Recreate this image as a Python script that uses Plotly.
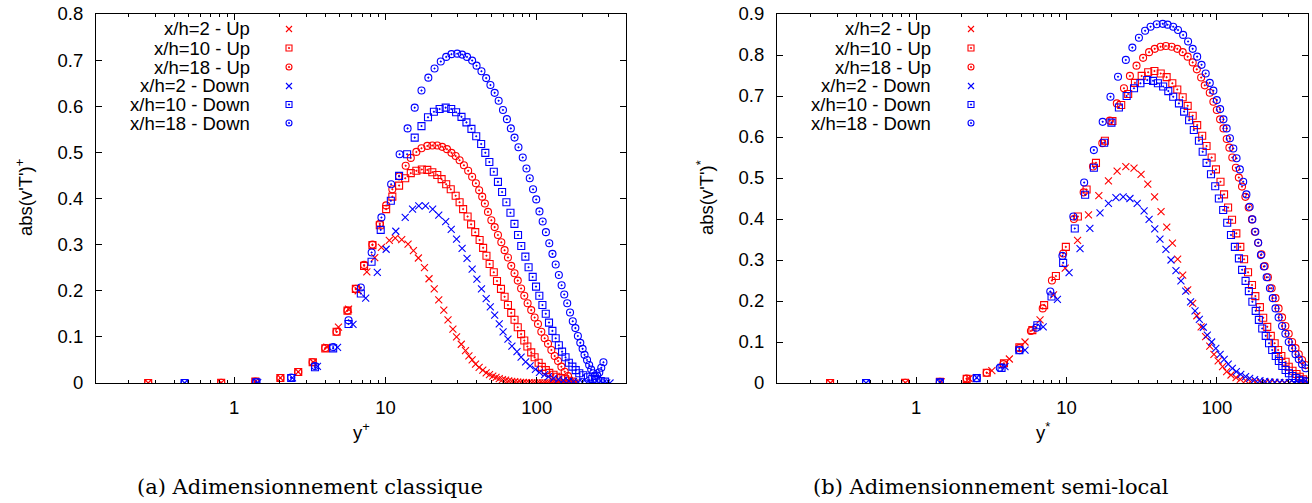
import plotly.graph_objects as go
import math

W, H = 1312, 503

# ---------------- data : panel (a) classical scaling ----------------
a_up2_x = [0.27, 0.82, 1.38, 2.02, 2.65, 3.33, 4.1, 4.89, 5.70, 6.6, 7.53, 8.49, 9.4, 10.6, 11.6,
           12.8, 14.1, 15.3, 16.5, 18.1, 19.4, 21.0, 22.5, 24.3, 25.9, 27.9, 29.5, 31.7, 33.8, 35.6,
           37.4, 39.4, 41.6, 44.0, 46.3, 48.7, 51.2, 53.8, 56.5, 59.3, 62.2, 65.2, 68.3, 71.5, 74.8,
           78.2, 81.7, 85.3, 89.0, 92.8, 96.7, 100.7, 104.8, 109, 113.3, 117.7, 122.2, 126.8, 131.5, 136.3,
           141.2, 146.2, 151.3, 156.5, 161.8, 167.2, 172.7, 178.3, 184]
a_up2_y = [0.0, 0.0005, 0.003, 0.011, 0.024, 0.045, 0.078, 0.121, 0.160, 0.200, 0.241, 0.272, 0.294, 0.309, 0.314,
           0.311, 0.301, 0.287, 0.271, 0.250, 0.226, 0.204, 0.180, 0.158, 0.137, 0.117, 0.100, 0.084, 0.070, 0.059,
           0.050, 0.041, 0.034, 0.028, 0.022, 0.018, 0.015, 0.012, 0.0095, 0.0075, 0.006, 0.0045, 0.0035, 0.0027, 0.002,
           0.0015, 0.0011, 0.0008, 0.0006, 0.0004, 0.0003, 0.0002, 0.0002, 0.0001, 0.0001, 0.0001, 0, 0, 0, 0,
           0, 0, 0, 0, 0, 0, 0, 0, 0]

a_up10_x = [0.27, 0.82, 1.38, 2.02, 2.65, 3.3, 4.0, 4.75, 5.61, 6.37, 7.22, 8.2, 9.17, 10.1, 11.1,
            12.3, 13.5, 14.7, 16.0, 17.4, 18.9, 20.4, 22.0, 23.5, 25.2, 27.0, 29.1, 30.9, 32.6, 34.9,
            36.8, 39.2, 41.9, 44.2, 46.5, 48.8, 52.0, 54.6, 58.0, 61.3, 64.5, 67.8, 71.3, 74.9, 78.8,
            82.7, 86.7, 91.9, 96.8, 102.9, 108, 114.8, 121, 129, 135, 145, 154, 163, 172]
a_up10_y = [0, 0.0005, 0.003, 0.011, 0.024, 0.045, 0.075, 0.111, 0.157, 0.204, 0.254, 0.299, 0.342, 0.377, 0.404,
            0.428, 0.444, 0.455, 0.460, 0.463, 0.462, 0.457, 0.451, 0.442, 0.431, 0.420, 0.406, 0.392, 0.377, 0.361,
            0.344, 0.327, 0.310, 0.293, 0.276, 0.258, 0.240, 0.221, 0.204, 0.187, 0.169, 0.152, 0.137, 0.121, 0.106,
            0.092, 0.079, 0.0665, 0.0557, 0.044, 0.035, 0.028, 0.022, 0.018, 0.0137, 0.011, 0.008, 0.005, 0.003]

a_up18_x = [0.27, 0.82, 1.38, 2.02, 2.65, 3.3, 4.0, 4.75, 5.61, 6.37, 7.22, 8.2, 9.17, 10.1, 11.1,
            12.3, 13.6, 14.7, 16.0, 17.3, 18.9, 20.4, 22.0, 23.7, 25.5, 27.3, 29.1, 30.9, 33.0, 35.2,
            37.4, 39.6, 41.6, 43.6, 45.4, 47.6, 50.1, 52.7, 55.4, 58.3, 61.3, 64.5, 67.8, 71.3, 74.9,
            78.8, 82.7, 87.0, 91.9, 96.8, 101.9, 107.2, 112.8, 118.7, 124.9, 131.4, 138.3, 145.5, 153, 161]
a_up18_y = [0, 0.0005, 0.003, 0.011, 0.024, 0.045, 0.076, 0.111, 0.157, 0.204, 0.256, 0.300, 0.345, 0.385, 0.420,
            0.448, 0.471, 0.488, 0.501, 0.509, 0.514, 0.515, 0.515, 0.512, 0.507, 0.499, 0.492, 0.483, 0.472, 0.460,
            0.447, 0.433, 0.418, 0.404, 0.389, 0.371, 0.353, 0.338, 0.321, 0.305, 0.288, 0.272, 0.254, 0.238, 0.222,
            0.205, 0.189, 0.173, 0.158, 0.142, 0.128, 0.111, 0.097, 0.085, 0.0715, 0.0585, 0.0477, 0.0354, 0.0245, 0.015]

a_dn2_x = [0.47, 1.43, 2.43, 3.55, 4.82, 6.1, 7.4, 8.83, 10.1, 11.7, 13.5, 15.1, 16.6, 18.4, 20.5,
           22.5, 25.0, 27.2, 29.5, 32.1, 34.6, 37.4, 40.2, 43.1, 46.3, 49.3, 52.7, 56.5, 59.9, 64.5,
           68.5, 74.0, 78.8, 84.4, 90.4, 98, 104.2, 112.8, 119.5, 129, 139, 150, 163, 175, 188,
           200, 214, 228, 243, 258, 274, 290, 305]
a_dn2_y = [0, 0.001, 0.011, 0.036, 0.077, 0.127, 0.184, 0.24, 0.29, 0.329, 0.359, 0.377, 0.384, 0.384, 0.377,
           0.364, 0.350, 0.333, 0.312, 0.292, 0.270, 0.247, 0.225, 0.204, 0.183, 0.165, 0.147, 0.128, 0.111, 0.095,
           0.080, 0.068, 0.056, 0.046, 0.037, 0.0297, 0.023, 0.018, 0.0137, 0.010, 0.008, 0.0058, 0.0043, 0.003, 0.002,
           0.0015, 0.001, 0.0008, 0.0005, 0.0003, 0.0002, 0.0001, 0]

a_dn10_x = [0.47, 1.40, 2.38, 3.42, 4.51, 5.7, 6.87, 8.09, 9.3, 10.85, 12.3, 13.9, 15.6, 17.3, 19.1,
            20.9, 22.8, 25.0, 27.2, 29.3, 31.8, 34.3, 37.0, 39.8, 42.9, 45.7, 48.6, 52.0, 55.4, 59.0,
            63.0, 67.0, 71.2, 75.2, 79, 84.1, 88.3, 94, 98.9, 104, 109, 114.7, 120.5, 126.9, 133.4,
            140, 147, 155, 163, 172, 181, 191, 203, 218, 233, 248, 265, 283]
a_dn10_y = [0, 0.0015, 0.011, 0.034, 0.075, 0.128, 0.194, 0.263, 0.332, 0.395, 0.449, 0.496, 0.532, 0.557, 0.576,
            0.588, 0.594, 0.597, 0.594, 0.587, 0.577, 0.565, 0.551, 0.535, 0.518, 0.499, 0.479, 0.458, 0.436, 0.414,
            0.392, 0.369, 0.345, 0.321, 0.297, 0.274, 0.251, 0.230, 0.209, 0.189, 0.169, 0.150, 0.131, 0.113, 0.097,
            0.082, 0.068, 0.0557, 0.044, 0.0354, 0.028, 0.021, 0.0167, 0.0124, 0.0087, 0.0065, 0.0043, 0.003]

a_dn18_x = [0.47, 1.40, 2.38, 3.42, 4.51, 5.7, 6.87, 8.1, 9.4, 10.9, 12.4, 14.0, 15.6, 17.3, 19.2,
            21.1, 23.2, 25.2, 27.3, 29.8, 32.1, 34.6, 37.4, 40.0, 43.1, 46.3, 49.4, 52.7, 56.0, 59.8,
            63.5, 67.4, 71.3, 75.7, 80.8, 85.5, 89.9, 94.5, 99.2, 104.2, 109.4, 115, 121, 127, 133.4,
            140, 146, 152, 159, 166, 173, 180, 187, 194, 201, 207, 215, 222, 229, 236,
            243, 251, 259, 267, 276]
a_dn18_y = [0, 0.0015, 0.012, 0.037, 0.078, 0.136, 0.207, 0.283, 0.359, 0.431, 0.496, 0.552, 0.597, 0.634, 0.662,
            0.682, 0.697, 0.707, 0.713, 0.714, 0.712, 0.707, 0.699, 0.688, 0.676, 0.661, 0.646, 0.629, 0.612, 0.592,
            0.572, 0.552, 0.532, 0.511, 0.489, 0.465, 0.444, 0.420, 0.398, 0.372, 0.350, 0.327, 0.303, 0.280, 0.257,
            0.234, 0.212, 0.192, 0.173, 0.153, 0.134, 0.119, 0.102, 0.087, 0.074, 0.061, 0.050, 0.039, 0.029, 0.021,
            0.015, 0.016, 0.023, 0.033, 0.045]

# ---------------- data : panel (b) semi-local scaling ----------------
b_up2_x = [0.27, 0.85, 1.47, 2.25, 3.19, 4.17, 5.3, 6.67, 8.2, 9.8, 11.85, 14.0, 16.4, 19.0, 21.7,
           24.8, 28.1, 31.3, 34.7, 38.5, 42.5, 46.4, 50.6, 54.8, 59.2, 63.9, 69.0, 73.5, 78.5, 84.1,
           89.6, 95.5, 101.9, 109, 116, 124, 134, 143, 155, 167, 180, 195, 210, 226, 243,
           262, 282, 303, 326, 350, 375, 400]
b_up2_y = [0, 0.0005, 0.003, 0.011, 0.03, 0.0585, 0.10, 0.154, 0.215, 0.28, 0.348, 0.41, 0.457, 0.493, 0.517,
           0.528, 0.524, 0.509, 0.485, 0.454, 0.418, 0.38, 0.341, 0.302, 0.263, 0.227, 0.194, 0.164, 0.137, 0.113,
           0.09, 0.07, 0.0537, 0.0398, 0.0276, 0.0195, 0.013, 0.009, 0.0056, 0.0032, 0.002, 0.0015, 0.001, 0.0007, 0.0005,
           0.0003, 0.0002, 0.0001, 0.0001, 0, 0, 0]

b_up10_x = [0.268, 0.845, 1.44, 2.17, 2.95, 3.84, 4.86, 5.93, 7.1, 8.5, 9.9, 11.9, 13.6, 15.7, 18.0,
            20.2, 23.1, 25.7, 28.5, 31.6, 34.9, 38.4, 42.3, 46.3, 50.5, 54.5, 59.2, 63.9, 69.0, 73.9,
            79.8, 85.3, 92.2, 98.5, 105.6, 111.5, 118.6, 126, 134.6, 143, 151.5, 161, 171, 180, 193,
            203, 216, 228, 242, 255, 268, 286, 300, 318, 338, 355, 374, 395]
b_up10_y = [0, 0.0005, 0.003, 0.01, 0.025, 0.048, 0.087, 0.129, 0.19, 0.261, 0.332, 0.406, 0.472, 0.537, 0.591,
            0.639, 0.678, 0.705, 0.732, 0.749, 0.758, 0.761, 0.755, 0.746, 0.731, 0.716, 0.697, 0.676, 0.652, 0.629,
            0.603, 0.578, 0.55, 0.521, 0.491, 0.46, 0.428, 0.398, 0.365, 0.332, 0.302, 0.27, 0.239, 0.212, 0.185,
            0.159, 0.137, 0.115, 0.097, 0.0805, 0.066, 0.052, 0.0398, 0.030, 0.022, 0.0154, 0.009, 0.005]

b_up18_x = [0.268, 0.845, 1.44, 2.17, 2.95, 3.8, 4.86, 5.8, 6.95, 8.0, 9.5, 11.2, 13.0, 15.0, 17.3,
            19.4, 21.6, 24.1, 26.4, 29.2, 32.3, 35.4, 38.6, 42.2, 45.8, 50, 54.5, 59.2, 63.9, 69,
            73.5, 78.5, 83, 89.6, 94.7, 99.8, 104.9, 110.5, 116.2, 121, 126.5, 133.6, 139.8, 146.8, 154.6,
            162.6, 171, 178.6, 188, 197.6, 207.8, 218.4, 231, 245, 257, 271, 285, 300, 316, 333,
            350, 368, 388]
b_up18_y = [0, 0.0005, 0.003, 0.011, 0.025, 0.046, 0.085, 0.127, 0.182, 0.25, 0.316, 0.40, 0.465, 0.528, 0.585,
            0.64, 0.682, 0.719, 0.749, 0.774, 0.793, 0.807, 0.815, 0.82, 0.822, 0.82, 0.815, 0.807, 0.796, 0.782,
            0.765, 0.745, 0.726, 0.708, 0.686, 0.666, 0.643, 0.621, 0.595, 0.574, 0.55, 0.525, 0.501, 0.479, 0.454,
            0.428, 0.399, 0.369, 0.342, 0.314, 0.285, 0.258, 0.231, 0.207, 0.182, 0.16, 0.139, 0.12, 0.10, 0.085,
            0.07, 0.056, 0.044]

b_dn2_x = [0.465, 1.44, 2.53, 3.9, 5.3, 7.0, 8.7, 10.4, 12.3, 14.3, 16.7, 19.0, 21.3, 23.8, 26.4,
           29.5, 32.8, 35.4, 38.6, 41.8, 45.8, 49.5, 53.4, 57.6, 62, 66.8, 71.5, 76.4, 81.2, 86.3,
           92.2, 98.3, 105, 111.7, 118.8, 126.6, 134.6, 144, 155, 165, 178, 193, 208, 224, 242,
           261, 281, 303, 326, 350, 375, 400]
b_dn2_y = [0, 0.0015, 0.013, 0.04, 0.08, 0.137, 0.204, 0.269, 0.328, 0.377, 0.415, 0.438, 0.452, 0.454, 0.45,
           0.438, 0.42, 0.399, 0.376, 0.351, 0.326, 0.30, 0.274, 0.249, 0.224, 0.198, 0.176, 0.155, 0.136, 0.117,
           0.10, 0.0846, 0.07, 0.0577, 0.0463, 0.0358, 0.0276, 0.0212, 0.0154, 0.0114, 0.008, 0.0056, 0.004, 0.003, 0.002,
           0.0015, 0.001, 0.0007, 0.0005, 0.0003, 0.0002, 0.0001]

b_dn10_x = [0.465, 1.44, 2.53, 3.7, 4.86, 6.4, 7.95, 9.5, 11.35, 13.3, 15.2, 17.8, 19.9, 22.3, 25.1,
            28.1, 31.0, 34.4, 37.6, 40.5, 43.9, 47.5, 51.2, 55.9, 60.5, 65.3, 70.2, 75.9, 80.4, 85.3,
            91.3, 97.4, 103, 110, 117, 124, 131.6, 140, 147, 155, 163, 172, 181, 190, 200,
            211, 222, 233, 246, 258, 272, 286, 301, 317, 334, 351, 372, 395]
b_dn10_y = [0, 0.0015, 0.012, 0.037, 0.08, 0.141, 0.211, 0.293, 0.377, 0.459, 0.525, 0.586, 0.635, 0.672, 0.70,
            0.719, 0.731, 0.739, 0.737, 0.731, 0.723, 0.712, 0.698, 0.682, 0.662, 0.641, 0.617, 0.591, 0.564, 0.537,
            0.509, 0.48, 0.45, 0.422, 0.391, 0.361, 0.332, 0.304, 0.276, 0.249, 0.224, 0.198, 0.176, 0.154, 0.133,
            0.115, 0.097, 0.0805, 0.066, 0.0537, 0.0415, 0.0317, 0.0236, 0.017, 0.0122, 0.008, 0.0056, 0.003]

b_dn18_x = [0.465, 1.44, 2.53, 3.6, 4.86, 6.3, 7.8, 9.4, 11.1, 13.1, 15.2, 17.4, 19.6, 22.0, 24.8,
            27.4, 30.3, 33.3, 36.2, 39.8, 43.6, 47, 51.2, 55.1, 59.6, 64.3, 69, 73.9, 79, 84.2,
            89.6, 94.7, 99.8, 105, 110.5, 116, 122, 128.5, 135, 142, 149.5, 157, 165, 172, 180,
            188, 196, 205, 214, 225, 235, 245, 257, 271, 285, 300, 316, 333, 350, 368, 388]
b_dn18_y = [0, 0.0015, 0.012, 0.037, 0.08, 0.135, 0.223, 0.31, 0.406, 0.489, 0.568, 0.637, 0.698, 0.747, 0.788,
            0.818, 0.842, 0.859, 0.869, 0.875, 0.876, 0.874, 0.869, 0.861, 0.849, 0.833, 0.815, 0.796, 0.776, 0.755,
            0.732, 0.713, 0.69, 0.668, 0.643, 0.621, 0.597, 0.572, 0.548, 0.521, 0.491, 0.46, 0.43, 0.399, 0.369,
            0.342, 0.312, 0.284, 0.258, 0.231, 0.207, 0.182, 0.16, 0.139, 0.12, 0.10, 0.085, 0.07, 0.058, 0.0456, 0.036]

series_labels = ["x/h=2 - Up", "x/h=10 - Up", "x/h=18 - Up",
                 "x/h=2 - Down", "x/h=10 - Down", "x/h=18 - Down"]
captions = ["(a) Adimensionnement classique", "(b) Adimensionnement semi-local"]
y_ticks_a = [0, 0.1, 0.2, 0.3, 0.4, 0.5, 0.6, 0.7, 0.8]
y_ticks_b = [0, 0.1, 0.2, 0.3, 0.4, 0.5, 0.6, 0.7, 0.8, 0.9]
x_ticks = [1, 10, 100]

# ---------------- styling ----------------
RED, BLUE = "#ff0000", "#0000ff"
colors = [RED, RED, RED, BLUE, BLUE, BLUE]
symbols = ["x-thin", "square-open-dot", "circle-open-dot"] * 2
FONT = "Liberation Sans, Arial, sans-serif"
FS = 18.5
MSIZE = 7

panel_a = [(a_up2_x, a_up2_y), (a_up10_x, a_up10_y), (a_up18_x, a_up18_y),
           (a_dn2_x, a_dn2_y), (a_dn10_x, a_dn10_y), (a_dn18_x, a_dn18_y)]
panel_b = [(b_up2_x, b_up2_y), (b_up10_x, b_up10_y), (b_up18_x, b_up18_y),
           (b_dn2_x, b_dn2_y), (b_dn10_x, b_dn10_y), (b_dn18_x, b_dn18_y)]


def marker(i, size=MSIZE):
    return dict(symbol=symbols[i], size=size, color=colors[i],
                line=dict(width=1.1, color=colors[i]))


fig = go.Figure()
for ax, panel in (("", panel_a), ("2", panel_b)):
    for i, (xs, ys) in enumerate(panel):
        n = min(len(xs), len(ys))
        fig.add_trace(go.Scatter(x=xs[:n], y=ys[:n], mode="markers", name=series_labels[i],
                                 xaxis="x" + ax, yaxis="y" + ax, marker=marker(i),
                                 showlegend=False, hoverinfo="x+y+name"))

# pixel-space overlay axis used for the hand-made (text-left, symbol-right) legends
legend_rows = [29, 48, 67, 86, 104.5, 123]
legend_marker_x = [289, 971]
legend_text_right = [252, 933]
for p in range(2):
    for i, lab in enumerate(series_labels):
        fig.add_trace(go.Scatter(x=[legend_marker_x[p]], y=[legend_rows[i]], mode="markers",
                                 xaxis="x3", yaxis="y3", marker=marker(i, 6),
                                 showlegend=False, hoverinfo="skip"))
        fig.add_annotation(x=legend_text_right[p] / W, y=1 - legend_rows[i] / H, xref="paper", yref="paper",
                           text=lab, showarrow=False, xanchor="right", yanchor="middle",
                           font=dict(family=FONT, size=FS, color="black"))

# plot-area geometry (pixels)
ax_a = dict(x0=96, x1=626)
ax_b = dict(x0=777, x1=1308)
y_top, y_bot = 14, 383

common = dict(showline=True, linecolor="black", linewidth=1, mirror="ticks", ticks="inside",
              tickcolor="black", ticklen=6, tickwidth=1, showgrid=False, zeroline=False,
              automargin=False, tickfont=dict(family=FONT, size=FS, color="black"),
              ticklabelstandoff=8)
minor_log = dict(ticks="inside", ticklen=3, tickcolor="black",
                 tickvals=[k * 10 ** e for e in (-1, 0, 1, 2) for k in range(2, 10)])

fig.update_layout(
    template="none",
    width=W, height=H, margin=dict(l=0, r=0, t=0, b=0, autoexpand=False),
    paper_bgcolor="white", plot_bgcolor="rgba(0,0,0,0)", showlegend=False,
    xaxis=dict(type="log", domain=[ax_a["x0"] / W, ax_a["x1"] / W],
               range=[math.log10(0.122), math.log10(389)], tickvals=x_ticks,
               ticktext=[str(v) for v in x_ticks], minor=minor_log, anchor="y", **common),
    yaxis=dict(domain=[1 - y_bot / H, 1 - y_top / H], range=[0, 0.8], tickvals=y_ticks_a,
               ticktext=[f"{v:g}" for v in y_ticks_a], anchor="x", **common),
    xaxis2=dict(type="log", domain=[ax_b["x0"] / W, ax_b["x1"] / W],
                range=[math.log10(0.119), math.log10(403)], tickvals=x_ticks,
                ticktext=[str(v) for v in x_ticks], minor=minor_log, anchor="y2", **common),
    yaxis2=dict(domain=[1 - y_bot / H, 1 - y_top / H], range=[0, 0.9], tickvals=y_ticks_b,
                ticktext=[f"{v:g}" for v in y_ticks_b], anchor="x2", **common),
    xaxis3=dict(domain=[0, 1], range=[0, W], visible=False, fixedrange=True, anchor="y3",
                automargin=False),
    yaxis3=dict(domain=[0, 1], range=[H, 0], visible=False, fixedrange=True, anchor="x3",
                automargin=False),
)

# axis titles
titles = [
    ("abs(v'T')<sup>+</sup>", 24, 198, -90),
    ("y<sup>+</sup>", 361, 431, 0),
    ("abs(v'T')<sup>*</sup>", 705, 198, -90),
    ("y<sup>*</sup>", 1043, 431, 0),
]
for txt, px, py, ang in titles:
    fig.add_annotation(x=px / W, y=1 - py / H, xref="paper", yref="paper", text=txt, showarrow=False,
                       textangle=ang, xanchor="center", yanchor="middle",
                       font=dict(family=FONT, size=FS, color="black"))

# sub-captions
for cap, cx in zip(captions, [310, 991]):
    fig.add_annotation(x=cx / W, y=1 - 487 / H, xref="paper", yref="paper", text=cap, showarrow=False,
                       xanchor="center", yanchor="middle",
                       font=dict(family="DejaVu Serif, serif", size=21, color="black"))

fig.write_html("out.html",
               config={"displayModeBar": False, "staticPlot": True},
               post_script="document.body.style.margin='0px';document.body.style.overflow='hidden';")
